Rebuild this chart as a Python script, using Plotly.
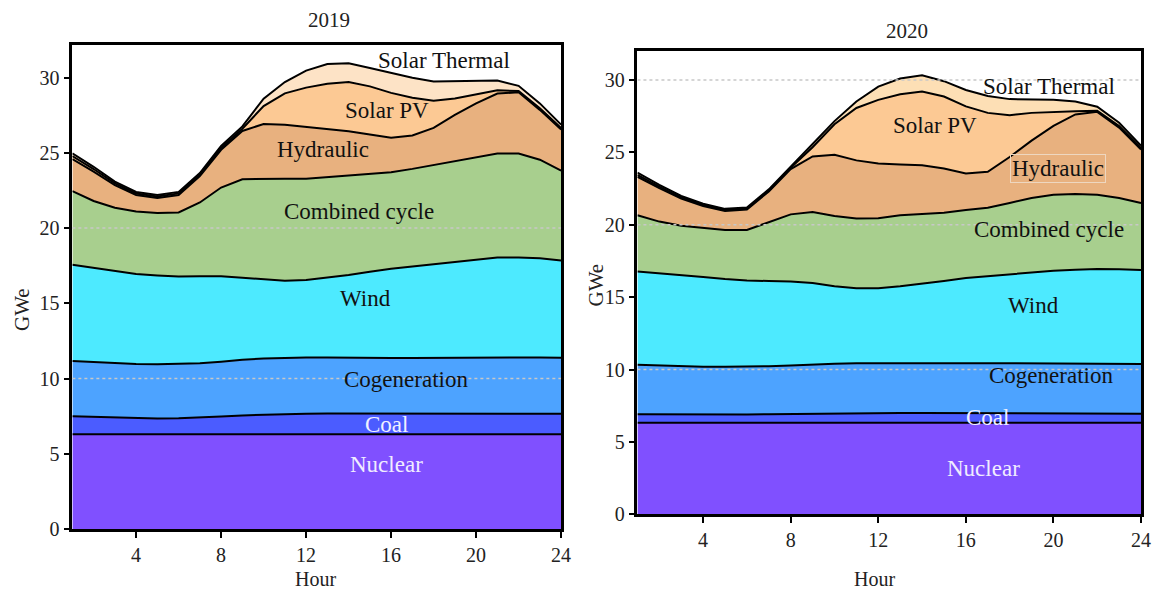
import plotly.graph_objects as go

hours = list(range(1, 25))

# ---- 2019 (GWe, per technology) ----
nuclear_2019 = [6.3] * 24
coal_2019 = [1.2, 1.15, 1.1, 1.06, 1.05, 1.06, 1.1, 1.18, 1.25, 1.3, 1.35, 1.37,
             1.38, 1.38, 1.37, 1.37, 1.37, 1.37, 1.38, 1.38, 1.38, 1.38, 1.37, 1.36]
cogen_2019 = [3.66, 3.63, 3.6, 3.61, 3.61, 3.61, 3.62, 3.64, 3.7, 3.73, 3.73, 3.73,
              3.72, 3.7, 3.7, 3.69, 3.7, 3.71, 3.72, 3.74, 3.75, 3.74, 3.73, 3.72]
wind_2019 = [6.4, 6.27, 6.15, 5.98, 5.89, 5.81, 5.78, 5.68, 5.45, 5.27, 5.12, 5.15,
             5.3, 5.5, 5.73, 5.94, 6.08, 6.22, 6.4, 6.53, 6.62, 6.63, 6.6, 6.47]
ccgt_2019 = [4.89, 4.45, 4.2, 4.15, 4.15, 4.26, 4.9, 5.89, 6.54, 6.68, 6.78, 6.73,
             6.69, 6.62, 6.5, 6.41, 6.48, 6.59, 6.68, 6.79, 6.9, 6.9, 6.54, 5.97]
hydro_2019 = [2.13, 1.95, 1.5, 1.1, 1.0, 1.16, 1.75, 2.51, 3.21, 3.63, 3.59, 3.44,
              3.2, 2.93, 2.61, 2.29, 2.22, 2.46, 3.04, 3.54, 3.99, 4.07, 3.31, 2.72]
pv_2019 = [0.2, 0.17, 0.12, 0.1, 0.1, 0.1, 0.1, 0.12, 0.15, 1.19, 2.08, 2.61,
           3.0, 3.27, 3.2, 2.98, 2.5, 1.81, 1.09, 0.61, 0.21, 0.08, 0.11, 0.11]
solth_2019 = [0.18, 0.15, 0.12, 0.1, 0.1, 0.1, 0.1, 0.13, 0.15, 0.5, 0.75, 1.13,
              1.31, 1.24, 1.22, 1.31, 1.33, 1.28, 1.14, 0.88, 0.65, 0.35, 0.32, 0.22]

# ---- 2020 (GWe, per technology) ----
nuclear_2020 = [6.33] * 24
coal_2020 = [0.59, 0.58, 0.57, 0.57, 0.57, 0.57, 0.59, 0.61, 0.63, 0.65, 0.67, 0.67,
             0.67, 0.67, 0.67, 0.67, 0.67, 0.67, 0.67, 0.67, 0.67, 0.67, 0.65, 0.62]
cogen_2020 = [3.41, 3.37, 3.33, 3.3, 3.29, 3.3, 3.31, 3.34, 3.39, 3.42, 3.43, 3.44,
              3.44, 3.44, 3.44, 3.44, 3.44, 3.44, 3.44, 3.44, 3.44, 3.44, 3.44, 3.44]
wind_2020 = [6.44, 6.38, 6.31, 6.2, 6.06, 5.95, 5.89, 5.81, 5.63, 5.35, 5.19, 5.18,
             5.31, 5.47, 5.68, 5.88, 6.01, 6.1, 6.24, 6.39, 6.46, 6.51, 6.51, 6.49]
ccgt_2020 = [3.89, 3.56, 3.39, 3.38, 3.39, 3.49, 4.04, 4.63, 4.9, 4.86, 4.81, 4.83,
             4.91, 4.86, 4.72, 4.7, 4.73, 4.97, 5.17, 5.25, 5.22, 5.13, 4.92, 4.63]
hydro_2020 = [2.66, 2.31, 1.88, 1.51, 1.31, 1.42, 2.14, 3.13, 3.84, 4.23, 4.02, 3.78,
              3.5, 3.34, 3.05, 2.53, 2.48, 3.17, 3.96, 4.75, 5.5, 5.72, 4.86, 3.69]
pv_2020 = [0.13, 0.1, 0.09, 0.08, 0.08, 0.07, 0.07, 0.09, 0.64, 2.1, 3.62, 4.4,
           4.86, 5.09, 4.97, 4.63, 4.07, 2.89, 1.92, 0.97, 0.22, 0.08, 0.12, 0.11]
solth_2020 = [0.15, 0.12, 0.1, 0.08, 0.07, 0.07, 0.08, 0.11, 0.22, 0.22, 0.45, 0.91,
              1.08, 1.13, 1.06, 1.13, 1.17, 1.11, 0.9, 0.83, 0.68, 0.27, 0.22, 0.16]

names = ["Nuclear", "Coal", "Cogeneration", "Wind", "Combined cycle",
         "Hydraulic", "Solar PV", "Solar Thermal"]
colors = ["#8050ff", "#4b5cff", "#4da3ff", "#4deaff", "#a8cf8e",
          "#e8b17f", "#fcc994", "#fde3c6"]
colors_2020 = ["#8050ff", "#4b5cff", "#4da3ff", "#4deaff", "#a8cf8e",
               "#e8b17f", "#fcc994", "#fddfb5"]

series_2019 = [nuclear_2019, coal_2019, cogen_2019, wind_2019, ccgt_2019,
               hydro_2019, pv_2019, solth_2019]
series_2020 = [nuclear_2020, coal_2020, cogen_2020, wind_2020, ccgt_2020,
               hydro_2020, pv_2020, solth_2020]

# label positions (hour, GWe)
labels_2019 = [(15.8, 4.3), (15.8, 6.95), (16.7, 9.95), (14.8, 15.35),
               (14.5, 21.1), (12.8, 25.2), (15.8, 27.8), (18.5, 31.1)]
labels_2020 = [(16.8, 3.2), (17.0, 6.7), (19.9, 9.6), (19.07, 14.4),
               (19.8, 19.66), (20.2, 23.86), (14.6, 26.85), (19.8, 29.56)]
label_colors = ["#f0ecff", "#f0f0ff", "#111", "#111", "#111", "#111", "#111", "#111"]

FONT = "Liberation Serif"
fig = go.Figure()

for vals, name, col in zip(series_2019, names, colors):
    fig.add_trace(go.Scatter(x=hours, y=vals, name=name, stackgroup="a",
                             mode="lines", line=dict(color="black", width=2),
                             fillcolor=col, xaxis="x", yaxis="y",
                             showlegend=False, hoverinfo="skip"))
for vals, name, col in zip(series_2020, names, colors_2020):
    fig.add_trace(go.Scatter(x=hours, y=vals, name=name, stackgroup="b",
                             mode="lines", line=dict(color="black", width=2),
                             fillcolor=col, xaxis="x2", yaxis="y2",
                             showlegend=False, hoverinfo="skip"))

axis_common = dict(showline=True, linecolor="black", linewidth=2.5, mirror=True,
                   ticks="outside", ticklen=6, tickwidth=2, tickcolor="black",
                   showgrid=False, zeroline=False,
                   tickfont=dict(family=FONT, size=20, color="#222"))

fig.update_layout(
    width=1155, height=599,
    margin=dict(l=0, r=0, t=0, b=0),
    paper_bgcolor="white", plot_bgcolor="white",
    font=dict(family=FONT, color="#222"),
    xaxis=dict(domain=[73 / 1155, 566 / 1155], range=[1, 24],
               tickvals=[4, 8, 12, 16, 20, 24], anchor="y", **axis_common),
    yaxis=dict(domain=[(599 - 539) / 599, (599 - 46) / 599], range=[0, 32.15],
               tickvals=[0, 5, 10, 15, 20, 25, 30], anchor="x", **axis_common),
    xaxis2=dict(domain=[643 / 1155, 1151 / 1155], range=[1, 24],
                tickvals=[4, 8, 12, 16, 20, 24], anchor="y2", **axis_common),
    yaxis2=dict(domain=[(599 - 524) / 599, (599 - 52) / 599], range=[0, 32.0],
                tickvals=[0, 5, 10, 15, 20, 25, 30], anchor="x2", **axis_common),
)

# dotted grid lines drawn above the areas
for yv in [10, 20]:
    fig.add_shape(type="line", xref="x", yref="y", x0=1, x1=24, y0=yv, y1=yv,
                  line=dict(color="#c8c8c8", width=1.5, dash="dot"), layer="above")
for yv in [10, 20, 30]:
    fig.add_shape(type="line", xref="x2", yref="y2", x0=1, x1=24, y0=yv, y1=yv,
                  line=dict(color="#c8c8c8", width=1.5, dash="dot"), layer="above")

for (hx, vy), name, lc in zip(labels_2019, names, label_colors):
    fig.add_annotation(x=hx, y=vy, xref="x", yref="y", text=name, showarrow=False,
                       xanchor="center", yanchor="middle",
                       font=dict(family=FONT, size=23, color=lc))
for (hx, vy), name, lc in zip(labels_2020, names, label_colors):
    extra = {}
    if name == "Hydraulic":
        extra = dict(bordercolor="#eed7c0", borderwidth=1, borderpad=1)
    fig.add_annotation(x=hx, y=vy, xref="x2", yref="y2", text=name, showarrow=False,
                       xanchor="center", yanchor="middle",
                       font=dict(family=FONT, size=23, color=lc), **extra)

# titles
def paper_text(xp, yp, text, angle=0, size=21):
    fig.add_annotation(x=xp / 1155, y=1 - yp / 599, xref="paper", yref="paper",
                       text=text, showarrow=False, textangle=angle,
                       xanchor="center", yanchor="middle",
                       font=dict(family=FONT, size=size, color="#222"))

paper_text(332, 20, "2019")
paper_text(915, 32, "2020")
paper_text(318, 590, "Hour", size=20)
paper_text(882, 590, "Hour", size=20)
paper_text(22, 315, "GWe", -90)
paper_text(601, 290, "GWe", -90)

fig.write_html("out.html")
